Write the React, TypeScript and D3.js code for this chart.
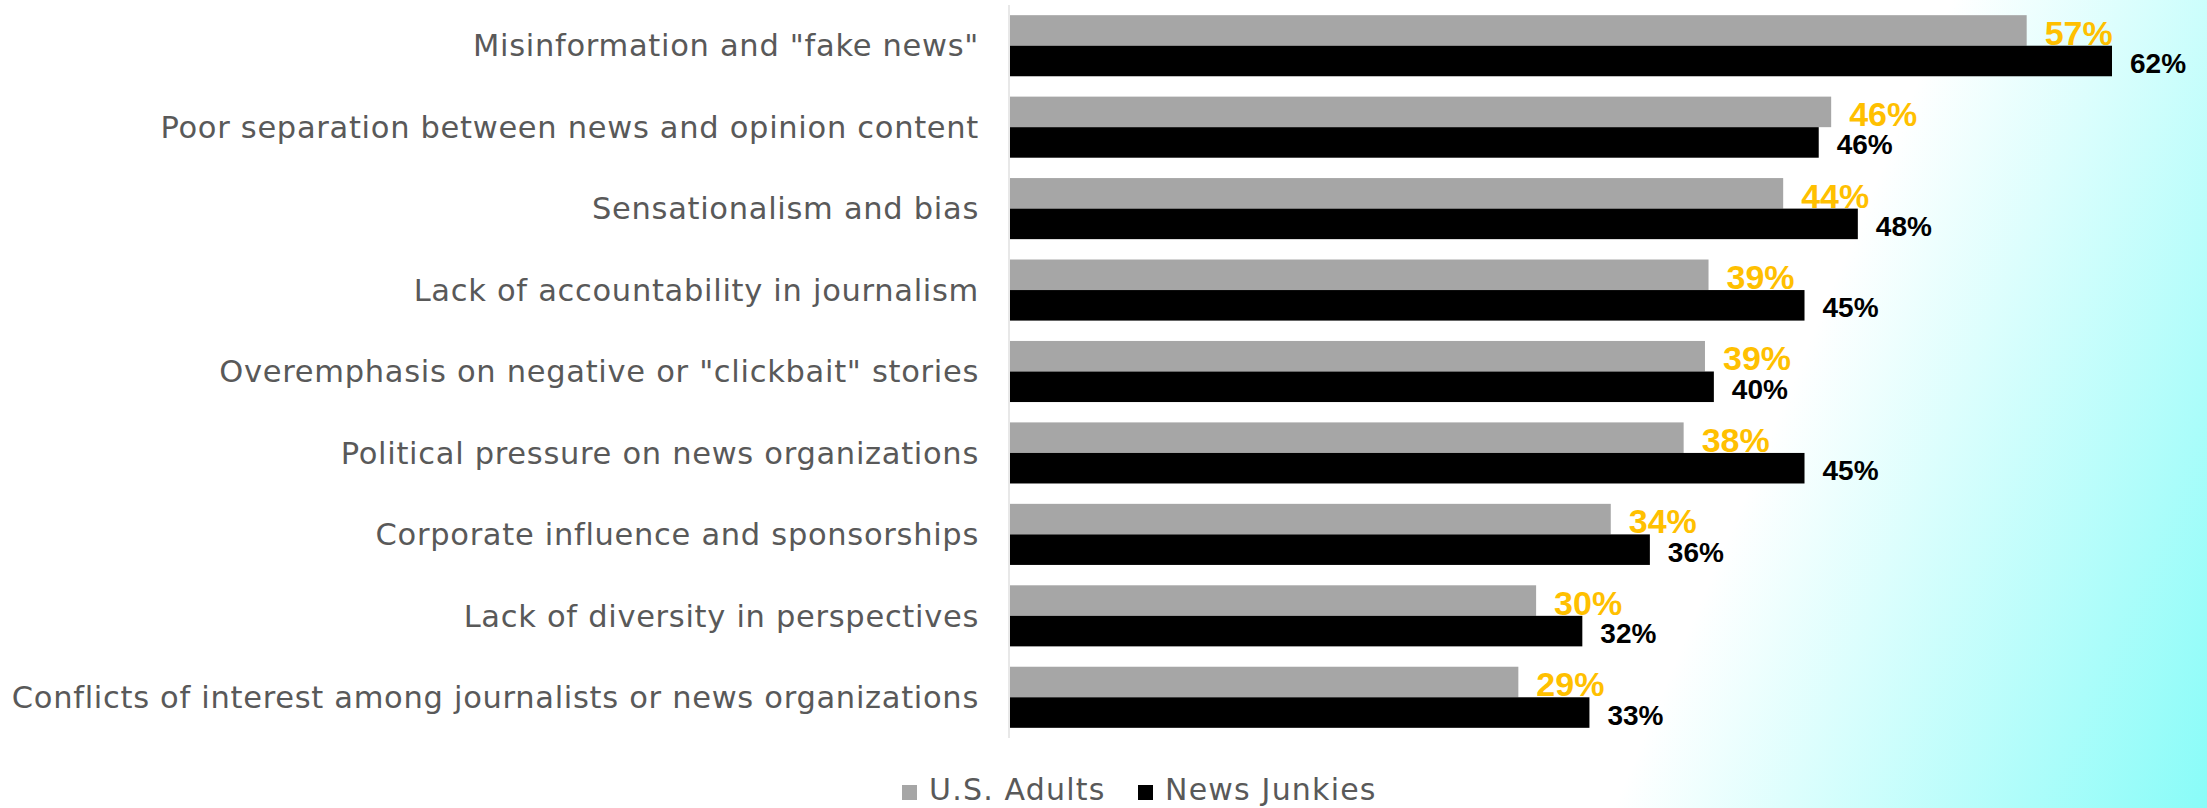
import React from "react";
import * as d3 from "d3";

const categories = [
  'Misinformation and "fake news"',
  "Poor separation between news and opinion content",
  "Sensationalism and bias",
  "Lack of accountability in journalism",
  'Overemphasis on negative or "clickbait" stories',
  "Political pressure on news organizations",
  "Corporate influence and sponsorships",
  "Lack of diversity in perspectives",
  "Conflicts of interest among journalists or news organizations",
];
const usAdults = [57.2, 46.2, 43.5, 39.3, 39.1, 37.9, 33.8, 29.6, 28.6];
const newsJunkies = [62.0, 45.5, 47.7, 44.7, 39.6, 44.7, 36.0, 32.2, 32.6];
const seriesNames = ["U.S. Adults", "News Junkies"];
const seriesColors = ["#A6A6A6", "#000000"];
const labelColors = ["#FFC000", "#000000"];

const W = 2207;
const H = 808;

export default function App() {
  const x = d3.scaleLinear().domain([0, 62]).range([1010, 2112]);
  const y = d3
    .scaleBand<string>()
    .domain(categories)
    .range([5, 738])
    .paddingInner(0.25)
    .paddingOuter(0.125);
  const bw = y.bandwidth();
  const half = bw / 2;
  const series = [usAdults, newsJunkies];
  const fmt = (v: number) => `${Math.round(v)}%`;
  const labelSizes = [34, 28];
  const catFont = "'DejaVu Sans', sans-serif";

  return (
    <svg
      width={W}
      height={H}
      style={{ position: "absolute", left: 0, top: 0, display: "block" }}
    >
      <defs>
        <linearGradient
          id="bg"
          gradientUnits="userSpaceOnUse"
          x1={1661}
          y1={695}
          x2={2168}
          y2={907}
        >
          <stop offset="0" stopColor="#FFFFFF" />
          <stop offset="1" stopColor="#88FCF8" />
        </linearGradient>
      </defs>
      <rect x={0} y={0} width={W} height={H} fill="url(#bg)" />

      {categories.map((c, i) => (
        <g key={c}>
          {series.map((s, k) => (
            <rect
              key={k}
              x={x(0)}
              y={(y(c) as number) + k * half}
              width={x(s[i]) - x(0)}
              height={half}
              fill={seriesColors[k]}
            />
          ))}
          {series.map((s, k) => (
            <text
              key={"l" + k}
              x={x(s[i]) + 18}
              y={(y(c) as number) + k * half + half / 2 + 0.358 * labelSizes[k] + 2}
              fontFamily="'Liberation Sans', Arial, sans-serif"
              fontWeight="bold"
              fontSize={labelSizes[k]}
              fill={labelColors[k]}
            >
              {fmt(s[i])}
            </text>
          ))}
          <text
            x={979}
            y={(y(c) as number) + bw / 2}
            dy="0.35em"
            textAnchor="end"
            fontFamily={catFont}
            fontSize={30.5}
            letterSpacing={0.7}
            fill="#595959"
          >
            {c}
          </text>
        </g>
      ))}

      <line x1={1009} x2={1009} y1={5} y2={738} stroke="#D9D9D9" strokeWidth={1.2} />

      {seriesNames.map((n, k) => {
        const lx = k === 0 ? 902 : 1138;
        return (
          <g key={n}>
            <rect x={lx} y={785} width={15} height={15} fill={seriesColors[k]} />
            <text
              x={lx + 27}
              y={800}
              fontFamily={catFont}
              fontSize={30}
              letterSpacing={1.2}
              fill="#595959"
            >
              {n}
            </text>
          </g>
        );
      })}
    </svg>
  );
}
